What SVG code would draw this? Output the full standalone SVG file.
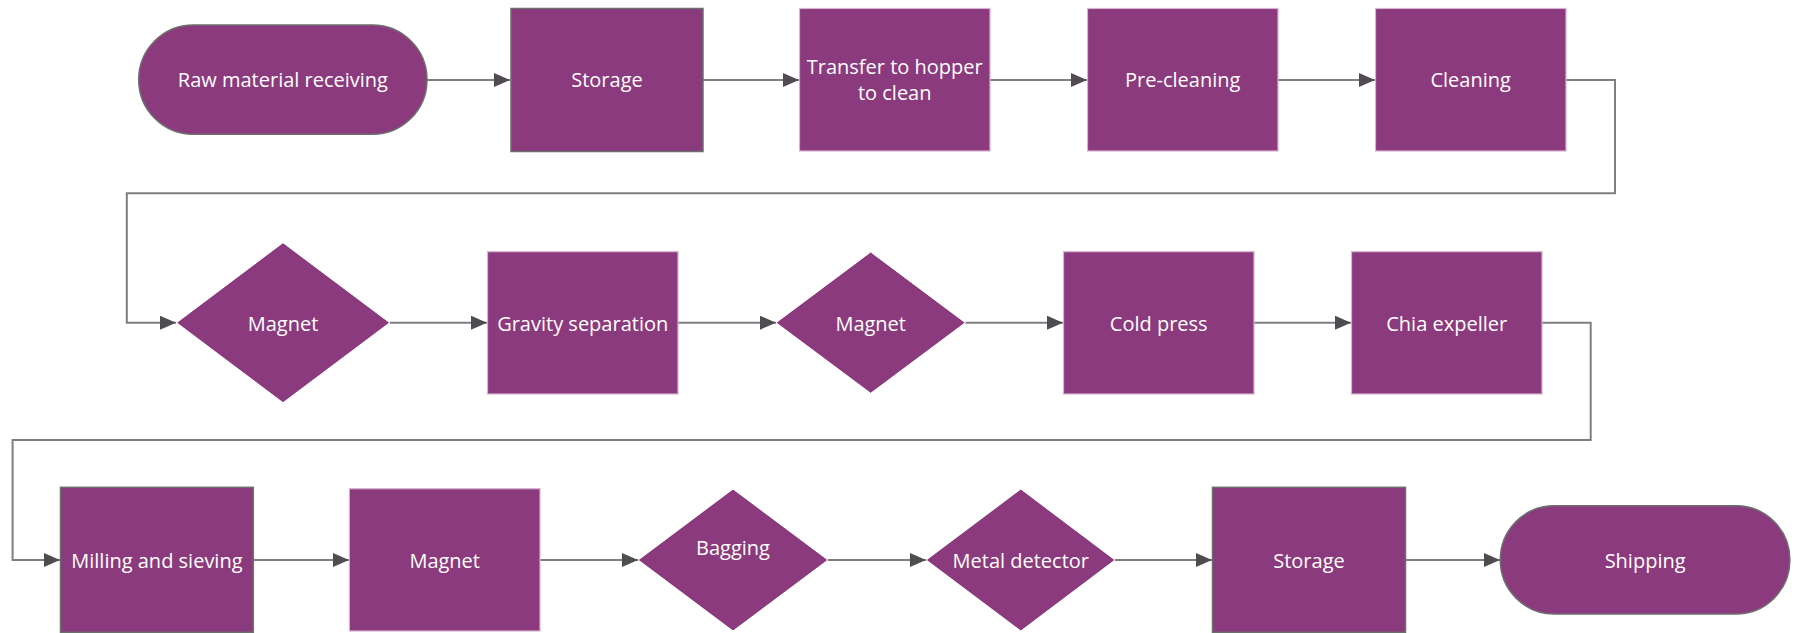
<svg xmlns="http://www.w3.org/2000/svg" width="1796" height="633" viewBox="0 0 1796 633">
<style>
.n{fill:#8B3A7E}
.dk{stroke:#6E6E6E;stroke-width:1.5}
.lt{stroke:#D7B2D1;stroke-width:1.2}
.dm{stroke:#FFFFFF;stroke-width:1}
.t{font-family:"Open Sans","Noto Sans","DejaVu Sans",sans-serif;font-size:20px;fill:#FFFFFF;text-anchor:middle}
.c{fill:none;stroke:#7F7F7F;stroke-width:2;marker-end:url(#ah)}
</style>
<defs>
<marker id="ah" markerUnits="userSpaceOnUse" markerWidth="17" markerHeight="15" refX="16" refY="7" orient="auto" viewBox="0 0 17 15">
<path d="M0,0 L16,7 L0,14 Z" fill="#4F4D51"/>
</marker>
</defs>
<rect width="1796" height="633" fill="#FFFFFF"/>
<g id="connectors">
<path class="c" d="M427,80 H510"/>
<path class="c" d="M703,80 H799"/>
<path class="c" d="M990,80 H1087"/>
<path class="c" d="M1278,80 H1375"/>
<path class="c" d="M1566,80 H1615 V193.3 H126.8 V322.7 H176"/>
<path class="c" d="M389.7,322.7 H487"/>
<path class="c" d="M678,322.7 H776"/>
<path class="c" d="M965.3,322.7 H1063"/>
<path class="c" d="M1254,322.7 H1351"/>
<path class="c" d="M1542,322.7 H1590.7 V440 H12.6 V560 H60"/>
<path class="c" d="M253.3,560 H349"/>
<path class="c" d="M540,560 H638"/>
<path class="c" d="M828,560 H926"/>
<path class="c" d="M1115,560 H1212"/>
<path class="c" d="M1405.6,560 H1500"/>
</g>
<g id="n1"><rect class="n dk" x="138.7" y="25" width="288.3" height="109.3" rx="54.6" ry="54.6"/><text class="t" x="282.9" y="87">Raw material receiving</text></g>
<g id="n2"><rect class="n dk" x="511" y="8.5" width="192" height="143"/><text class="t" x="607" y="87">Storage</text></g>
<g id="n3"><rect class="n lt" x="799.5" y="8.5" width="190.5" height="142.5"/><text class="t" x="894.7" y="74">Transfer to hopper</text><text class="t" x="894.7" y="100">to clean</text></g>
<g id="n4"><rect class="n lt" x="1087.5" y="8.5" width="190.5" height="142.5"/><text class="t" x="1182.7" y="87">Pre-cleaning</text></g>
<g id="n5"><rect class="n lt" x="1375.5" y="8.5" width="190.5" height="142.5"/><text class="t" x="1470.7" y="87">Cleaning</text></g>
<g id="n6"><polygon class="n dm" points="283,242.7 389.7,322.7 283,402.7 176.5,322.7"/><text class="t" x="283" y="330.5">Magnet</text></g>
<g id="n7"><rect class="n lt" x="487.5" y="251.7" width="190.5" height="142.3"/><text class="t" x="582.7" y="330.5">Gravity separation</text></g>
<g id="n8"><polygon class="n dm" points="870.7,252 965.3,322.7 870.7,393.3 776,322.7"/><text class="t" x="870.7" y="330.5">Magnet</text></g>
<g id="n9"><rect class="n lt" x="1063.5" y="251.7" width="190.5" height="142.3"/><text class="t" x="1158.7" y="330.5">Cold press</text></g>
<g id="n10"><rect class="n lt" x="1351.5" y="251.7" width="190.5" height="142.3"/><text class="t" x="1446.7" y="330.5">Chia expeller</text></g>
<g id="n11"><rect class="n dk" x="60.5" y="487.3" width="192.8" height="145"/><text class="t" x="156.9" y="568">Milling and sieving</text></g>
<g id="n12"><rect class="n lt" x="349.4" y="488.7" width="190.6" height="142.3"/><text class="t" x="444.7" y="568">Magnet</text></g>
<g id="n13"><polygon class="n dm" points="733,489 828,560 733,631 638.2,560"/><text class="t" x="733" y="555">Bagging</text></g>
<g id="n14"><polygon class="n dm" points="1020.8,489 1115,560 1020.8,631 926.2,560"/><text class="t" x="1020.8" y="568">Metal detector</text></g>
<g id="n15"><rect class="n dk" x="1212.5" y="487.3" width="193" height="145"/><text class="t" x="1309" y="568">Storage</text></g>
<g id="n16"><rect class="n dk" x="1500.3" y="505.7" width="289.6" height="108.3" rx="54" ry="54"/><text class="t" x="1645.1" y="568">Shipping</text></g>
</svg>
